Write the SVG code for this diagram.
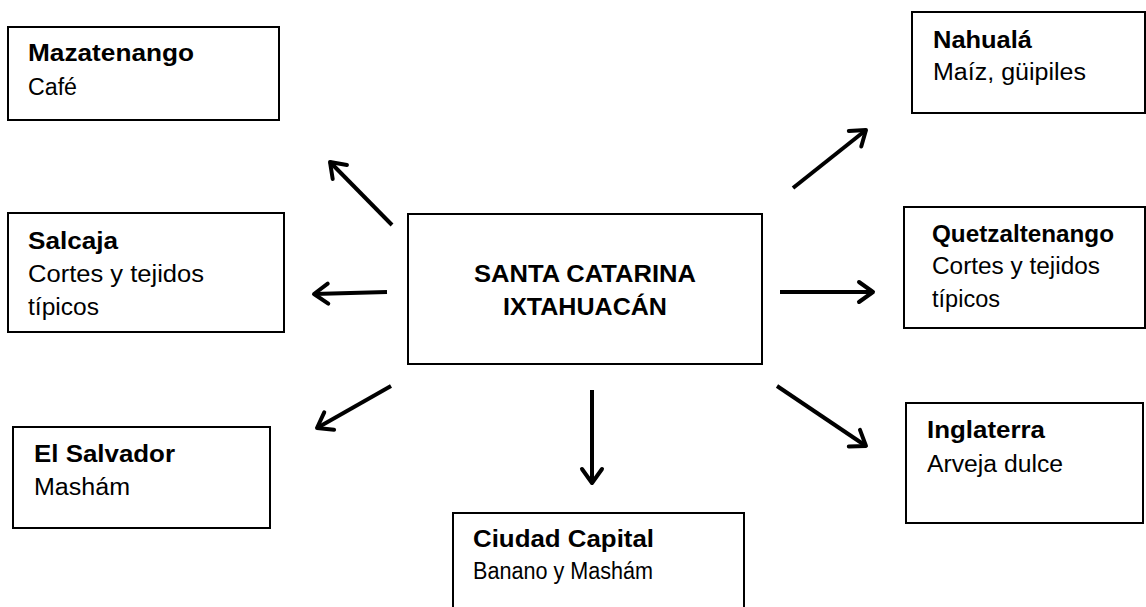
<svg xmlns="http://www.w3.org/2000/svg" width="1146" height="607" viewBox="0 0 1146 607">
<style>
  .box { fill: #ffffff; stroke: #000000; stroke-width: 2; }
  .t { font-family: "Liberation Sans", Arial, sans-serif; font-size: 23.5px; fill: #000000; }
  .b { font-weight: bold; }
  .c { fill: none; stroke: #000000; stroke-width: 4; }
</style>
<defs>
  <marker id="arr" markerUnits="userSpaceOnUse" markerWidth="30" markerHeight="30" viewBox="-20 -15 30 30" refX="0" refY="0" orient="auto">
    <path d="M -14 -10 L 0 0 L -14 10" fill="none" stroke="#000" stroke-width="4" stroke-linecap="round" stroke-linejoin="round"/>
  </marker>
</defs>
<rect width="1146" height="607" fill="#ffffff"/>

<g id="mazatenango">
  <rect class="box" x="8" y="27" width="271" height="93"/>
  <text class="t b" x="28" y="61" textLength="166" lengthAdjust="spacingAndGlyphs">Mazatenango</text>
  <text class="t" x="28" y="95" textLength="49" lengthAdjust="spacingAndGlyphs">Café</text>
</g>
<g id="salcaja">
  <rect class="box" x="8" y="213" width="276" height="119"/>
  <text class="t b" x="28" y="249" textLength="90" lengthAdjust="spacingAndGlyphs">Salcaja</text>
  <text class="t" x="28" y="282" textLength="176" lengthAdjust="spacingAndGlyphs">Cortes y tejidos</text>
  <text class="t" x="28" y="315" textLength="71" lengthAdjust="spacingAndGlyphs">típicos</text>
</g>
<g id="elsalvador">
  <rect class="box" x="13" y="427" width="257" height="101"/>
  <text class="t b" x="34" y="462" textLength="141" lengthAdjust="spacingAndGlyphs">El Salvador</text>
  <text class="t" x="34" y="495" textLength="96" lengthAdjust="spacingAndGlyphs">Mashám</text>
</g>
<g id="center">
  <rect class="box" x="408" y="214" width="354" height="150"/>
  <text class="t b" x="585" y="282" text-anchor="middle" textLength="222" lengthAdjust="spacingAndGlyphs">SANTA CATARINA</text>
  <text class="t b" x="585" y="315" text-anchor="middle" textLength="164" lengthAdjust="spacingAndGlyphs">IXTAHUACÁN</text>
</g>
<g id="ciudadcapital">
  <rect class="box" x="453" y="513" width="291" height="110"/>
  <text class="t b" x="473" y="547" textLength="181" lengthAdjust="spacingAndGlyphs">Ciudad Capital</text>
  <text class="t" x="473" y="579" textLength="180" lengthAdjust="spacingAndGlyphs">Banano y Mashám</text>
</g>
<g id="nahuala">
  <rect class="box" x="912" y="12" width="233" height="101"/>
  <text class="t b" x="933" y="48" textLength="99" lengthAdjust="spacingAndGlyphs">Nahualá</text>
  <text class="t" x="933" y="80" textLength="153" lengthAdjust="spacingAndGlyphs">Maíz, güipiles</text>
</g>
<g id="quetzaltenango">
  <rect class="box" x="904" y="207" width="241" height="121"/>
  <text class="t b" x="932" y="242" textLength="182" lengthAdjust="spacingAndGlyphs">Quetzaltenango</text>
  <text class="t" x="932" y="274" textLength="168" lengthAdjust="spacingAndGlyphs">Cortes y tejidos</text>
  <text class="t" x="932" y="307" textLength="68" lengthAdjust="spacingAndGlyphs">típicos</text>
</g>
<g id="inglaterra">
  <rect class="box" x="906" y="403" width="237" height="120"/>
  <text class="t b" x="927" y="438" textLength="118" lengthAdjust="spacingAndGlyphs">Inglaterra</text>
  <text class="t" x="927" y="472" textLength="136" lengthAdjust="spacingAndGlyphs">Arveja dulce</text>
</g>

<g id="connectors">
  <line class="c" x1="392" y1="225" x2="330" y2="162" marker-end="url(#arr)"/>
  <line class="c" x1="387" y1="292" x2="314" y2="294" marker-end="url(#arr)"/>
  <line class="c" x1="391" y1="386" x2="317" y2="428" marker-end="url(#arr)"/>
  <line class="c" x1="592" y1="390" x2="592" y2="483" marker-end="url(#arr)"/>
  <line class="c" x1="777" y1="386" x2="866" y2="446" marker-end="url(#arr)"/>
  <line class="c" x1="780" y1="292" x2="873" y2="292" marker-end="url(#arr)"/>
  <line class="c" x1="793" y1="188" x2="866" y2="130" marker-end="url(#arr)"/>
</g>
</svg>
